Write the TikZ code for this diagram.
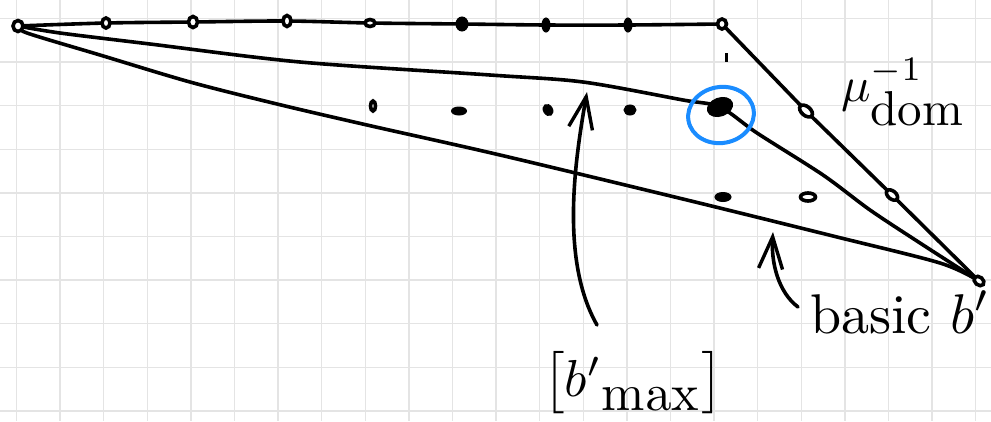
\documentclass[tikz,border=0pt]{standalone}
\usepackage{graphicx}
\usepackage{amsmath}
\usetikzlibrary{shapes.geometric,arrows.meta,backgrounds}
\definecolor{gridc}{HTML}{E4E4E4}
\definecolor{penblue}{HTML}{1A8CFF}
\tikzset{
  ink/.style={line width=3.6pt, line cap=round, line join=round},
  gridline/.style={draw=gridc, line width=1.3pt},
  odot/.style={ellipse, draw, fill=white, line width=3.6pt, inner sep=0pt},
  fdot/.style={ellipse, draw, fill=black, line width=1pt, inner sep=0pt},
  lbl/.style={anchor=base west, inner sep=0pt},
  barb/.style={-{Straight Barb[length=32pt,width=24pt,line width=3.4pt]}}
}
\begin{document}
\begin{tikzpicture}[x=1pt,y=-1pt]
\useasboundingbox (0,0) rectangle (991,421);
% dots and points
\node[odot, minimum width=10pt, minimum height=11pt] (A) at (18,26) {};
\node[odot, minimum width=8pt, minimum height=10pt] (t1) at (106,23) {};
\node[odot, minimum width=9pt, minimum height=11pt] (t2) at (193,22) {};
\node[odot, minimum width=8pt, minimum height=11pt] (t3) at (287,21) {};
\node[odot, minimum width=10pt, minimum height=7pt] (t4) at (370,23) {};
\node[fdot, minimum width=12pt, minimum height=14pt] (t5) at (462,24) {};
\node[fdot, minimum width=8pt, minimum height=14pt] (t6) at (546,25) {};
\node[fdot, minimum width=8pt, minimum height=14pt] (t7) at (628,25) {};
\node[odot, minimum width=9pt, minimum height=10pt] (B) at (722,24) {};
\node[odot, minimum width=15pt, minimum height=9pt, rotate=-40] (r1) at (806,111) {};
\node[odot, minimum width=13pt, minimum height=8pt, rotate=-40] (r2) at (892,195) {};
\node[odot, minimum width=11pt, minimum height=8pt, rotate=-40] (C) at (979,281) {};
\node[odot, minimum width=5pt, minimum height=10pt] (i1) at (373,106) {};
\node[fdot, minimum width=15pt, minimum height=8pt] (i2) at (459,111) {};
\node[fdot, minimum width=12pt, minimum height=9pt, rotate=-60] (i3) at (548,110) {};
\node[fdot, minimum width=12pt, minimum height=10pt] (i4) at (630,110) {};
\node[fdot, minimum width=26pt, minimum height=18pt, rotate=20] (m) at (720,107) {};
\node[fdot, minimum width=16pt, minimum height=9pt] (l1) at (723,197) {};
\node[odot, minimum width=15pt, minimum height=8pt] (l2) at (808,197) {};
\node[fill, inner sep=0pt, minimum width=3pt, minimum height=9pt] (tk) at (726,57) {};
% highlight
\node[ellipse, draw=penblue, line width=4pt, minimum width=66pt, minimum height=56pt, inner sep=0pt, rotate=10] (hl) at (721,115) {};
% labels
\node[lbl] (mu) at (841,101) {\scalebox{4.9}{$\mu^{-1}_{\textstyle\mathrm{dom}}$}};
\node[lbl] (bas) at (810,333) {\scalebox{5.6}{basic $b'$}};
\node[lbl] (bmax) at (543,396) {\scalebox{5.2}{$\bigl[{b'}_{\lower0.3ex\hbox{$\textstyle\mathrm{max}$}}\bigr]$}};
% arrows
\coordinate (a1s) at (597,325);
\coordinate (a1e) at (587,92);
\coordinate (a2s) at (798,307);
\coordinate (a2e) at (773,232);
\draw[ink, barb] (a1s) .. controls (560,260) and (575,160) .. (a1e);
\draw[ink, barb] (a2s) .. controls (778,292) and (771,262) .. (a2e);
\begin{scope}[on background layer]
\fill[white] (0,0) rectangle (991,421);
\foreach \i in {0,...,22} \draw[gridline] ({16.5+43.6*\i},0) -- ({16.5+43.6*\i},421);
\foreach \j in {0,...,9} \draw[gridline] (0,{18.5+43.6*\j}) -- (991,{18.5+43.6*\j});
\draw[ink] plot[smooth, tension=0.5] coordinates {(A.center) (t1.center) (t2.center) (t3.center) (t4.center) (t5.center) (t6.center) (t7.center) (B.center)};
\draw[ink] (B.center) -- (r1.center) -- (r2.center) -- (C.center);
\draw[ink] plot[smooth, tension=0.5] coordinates {(A.center) (60,33) (150,44) (300,62) (490,75) (583,82) (683,100) (m.center) (757,133) (823,175) (870,210) (920,243) (C.center)};
\draw[ink] plot[smooth, tension=0.5] coordinates {(A.center) (27,33) (100,55) (190,82) (277,104) (367,125) (500,155) (687,200) (833,236) (940,263) (C.center)};
\end{scope}
\end{tikzpicture}
\end{document}
